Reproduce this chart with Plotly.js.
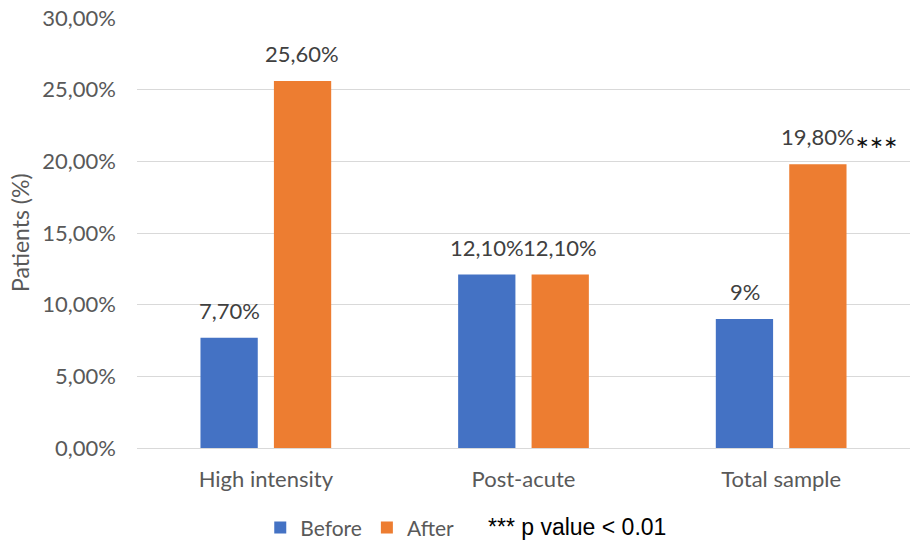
<!DOCTYPE html>
<html><head><meta charset="utf-8">
<script src="https://cdn.plot.ly/plotly-3.0.1.min.js"></script>
<style>body{margin:0}#c{width:910px;height:543px}</style>
</head><body><div id="c"></div>
<script>
const categories = ["High intensity", "Post-acute", "Total sample"];
const beforeVals = [7.7, 12.1, 9];
const afterVals = [25.6, 12.1, 19.8];
const beforeLabels = ["7,70%", "12,10%", "9%"];
const afterLabels = ["25,60%", "12,10%", "19,80%"];
const yTicks = [0, 5, 10, 15, 20, 25, 30];
const yTickLabels = ["0,00%", "5,00%", "10,00%", "15,00%", "20,00%", "25,00%", "30,00%"];

const font = "Lato, Open Sans, sans-serif";
const traces = [
  {type: "bar", name: "Before", x: categories, y: beforeVals,
   marker: {color: "#4472C4"}, hoverinfo: "none"},
  {type: "bar", name: "After", x: categories, y: afterVals,
   marker: {color: "#ED7D31"}, hoverinfo: "none"}
];

function labelAnns(vals, labels, xshift) {
  return vals.map((v, i) => ({
    xref: "x", yref: "y", x: categories[i], y: v, xshift: xshift, yshift: 12,
    xanchor: "center", yanchor: "bottom", showarrow: false, text: labels[i],
    font: {family: font, size: 22, color: "#404040"}
  }));
}

const layout = {
  width: 910, height: 543,
  margin: {l: 137, r: 0, t: 18, b: 95, autoexpand: false},
  paper_bgcolor: "#fff", plot_bgcolor: "#fff",
  font: {family: font, color: "#595959", size: 22},
  barmode: "group", bargap: 0.43, bargroupgap: 0.22,
  showlegend: true,
  legend: {orientation: "h", xref: "container", x: 0.286, xanchor: "left",
    yref: "container", y: 0.028, yanchor: "middle",
    font: {family: font, size: 21, color: "#595959"}, itemwidth: 30, traceorder: "normal"},
  xaxis: {type: "category", showgrid: false, showline: true, linecolor: "#d9d9d9", linewidth: 1,
    ticks: "", ticklabelstandoff: 12, tickfont: {family: font, size: 22, color: "#595959"}, range: [-0.5, 2.5]},
  yaxis: {range: [0, 30], tickvals: yTicks, ticktext: yTickLabels,
    showgrid: true, gridcolor: "#d9d9d9", gridwidth: 1, zeroline: false, showline: false,
    tickfont: {family: font, size: 22, color: "#595959"}, ticks: "", ticklabelstandoff: 20},
  annotations: [
    {xref: "paper", yref: "paper", x: -137 / 773 + 20 / 773, y: 0.5, xanchor: "center", yanchor: "middle",
     textangle: -90, text: "Patients (%)", showarrow: false,
     font: {family: font, size: 23, color: "#595959"}},
    {xref: "paper", yref: "paper", x: 0.451, y: -0.184, xanchor: "left", yanchor: "middle",
     text: "*** p value < 0.01", showarrow: false,
     font: {family: "Liberation Sans Narrow, Liberation Sans, sans-serif", size: 23, color: "#000"}},
    {xref: "x", yref: "y", x: 2, y: 19.8, xshift: 72, yshift: 22, xanchor: "left", yanchor: "middle",
     text: "∗∗∗", showarrow: false, font: {family: "DejaVu Sans", size: 17, color: "#111"}}
  ].concat(labelAnns(beforeVals, beforeLabels, -36.5), labelAnns(afterVals, afterLabels, 36.5))
};
Plotly.newPlot("c", traces, layout, {displayModeBar: false, staticPlot: true});
</script></body></html>
